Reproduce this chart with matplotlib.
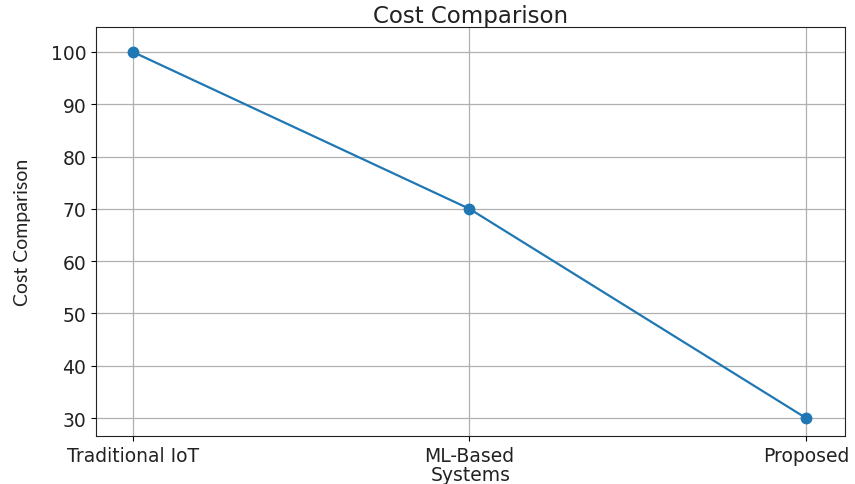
import matplotlib
matplotlib.use('Agg')
import matplotlib.pyplot as plt

# datos
systems = ['Traditional IoT', 'ML-Based', 'Proposed']
cost = [100, 70, 30]

fig = plt.figure(figsize=(8.55, 4.85), dpi=100)
ax = fig.add_axes([96/855, 1 - 437/485, (845 - 96)/855, (437 - 28)/485])

ax.plot(systems, cost, marker='o', color='#1f77b4', linewidth=1.6, markersize=7.5)
ax.set_xlim(-0.11, 2.116)
ax.set_ylim(26.56, 104.78)
ax.grid(True, color='#b0b0b0', linewidth=0.9)
for s in ax.spines.values():
    s.set_color('#222222')

ax.set_title('Cost Comparison', fontsize=16.5, color='#222222', pad=2)
ax.set_xlabel('Systems', fontsize=13.5, labelpad=0, color='#222222')
ax.set_ylabel('Cost Comparison', fontsize=14, family=['Lato', 'DejaVu Sans'],
              labelpad=14, color='#222222')
ax.tick_params(labelsize=13.5, labelcolor='#222222')

fig.savefig('out.png', dpi=100)
